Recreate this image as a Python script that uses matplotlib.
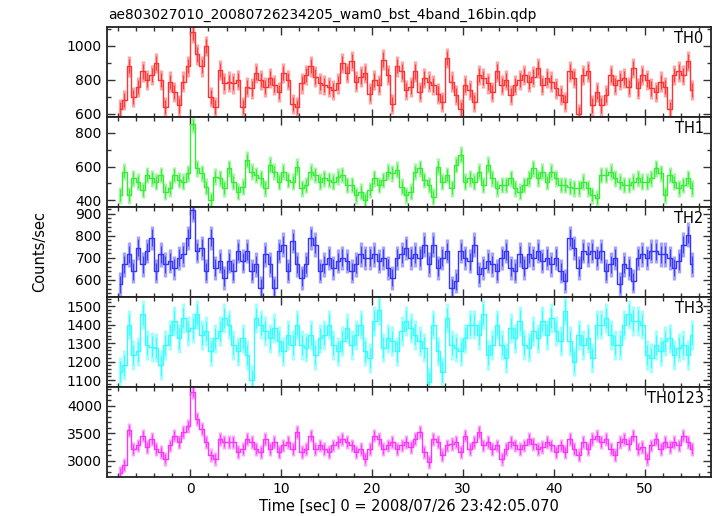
import numpy as np
import matplotlib
matplotlib.use('Agg')
import matplotlib.pyplot as plt
from matplotlib.ticker import MultipleLocator

plt.rcParams['font.family'] = ['DejaVu Sans']

# Text
TITLE = 'ae803027010_20080726234205_wam0_bst_4band_16bin.qdp'
XLABEL = 'Time [sec] 0 = 2008/07/26 23:42:05.070'
YLABEL = 'Counts/sec'

# Time binning (centre of first bin, bin width in sec)
T_START = -7.75
T_BIN = 0.5

BANDS = ['TH0', 'TH1', 'TH2', 'TH3', 'TH0123']
COLORS = ['#ff3333', '#33ee33', '#3535ff', '#33ffff', '#ff33ff']
ERRS = [60, 50, 55, 80, 125]  # typical error bar half-size per band

th0 = [630, 680, 880, 700, 760, 850, 800, 830, 900, 800, 640, 790, 730, 650, 790, 880,
       1080, 950, 880, 1000, 700, 640, 860, 780, 790, 780, 800, 640, 760, 750, 840, 800,
       760, 810, 770, 730, 840, 800, 660, 640, 780, 830, 880, 820, 780, 770, 760, 740,
       780, 900, 840, 910, 790, 820, 840, 720, 800, 770, 920, 830, 660, 880, 850, 740,
       760, 850, 730, 810, 790, 770, 720, 670, 930, 790, 710, 630, 770, 740, 670, 830,
       810, 780, 730, 850, 770, 800, 710, 770, 800, 830, 790, 820, 870, 770, 810, 790,
       750, 710, 670, 850, 810, 600, 830, 850, 650, 730, 650, 710, 830, 770, 800, 810,
       760, 870, 750, 830, 800, 750, 730, 790, 760, 630, 830, 850, 830, 910, 740]

th1 = [430, 570, 430, 530, 510, 460, 550, 530, 510, 550, 450, 470, 550, 520, 510, 560,
       850, 590, 560, 480, 400, 540, 530, 470, 590, 510, 450, 480, 640, 570, 550, 530,
       470, 610, 570, 510, 570, 520, 510, 600, 470, 490, 570, 550, 510, 530, 520, 510,
       540, 550, 490, 490, 430, 450, 400, 460, 530, 490, 520, 570, 560, 580, 480, 430,
       450, 570, 590, 520, 490, 420, 600, 510, 550, 470, 610, 670, 510, 530, 510, 570,
       490, 610, 530, 470, 490, 490, 530, 470, 450, 490, 530, 590, 530, 570, 510, 570,
       530, 490, 490, 480, 470, 470, 510, 470, 430, 410, 550, 550, 570, 530, 510, 490,
       490, 510, 530, 510, 510, 530, 590, 560, 430, 550, 510, 470, 490, 530, 470]

th2 = [580, 670, 715, 640, 745, 670, 730, 790, 640, 715, 670, 685, 655, 700, 715, 790,
       915, 730, 745, 640, 790, 655, 685, 610, 685, 640, 730, 685, 730, 640, 670, 565,
       715, 670, 565, 730, 760, 640, 775, 670, 610, 670, 790, 760, 640, 670, 700, 655,
       685, 700, 685, 640, 670, 715, 700, 700, 715, 685, 700, 655, 610, 700, 715, 745,
       700, 715, 700, 760, 670, 760, 655, 700, 730, 565, 595, 730, 700, 685, 760, 625,
       655, 685, 670, 640, 700, 730, 655, 640, 715, 655, 715, 700, 730, 685, 700, 670,
       700, 640, 595, 790, 745, 655, 730, 715, 730, 700, 730, 640, 670, 700, 580, 670,
       655, 595, 700, 715, 700, 730, 730, 715, 715, 700, 655, 685, 760, 805, 670]

th3 = [1145, 1180, 1400, 1235, 1255, 1455, 1290, 1280, 1275, 1180, 1290, 1345, 1420, 1325, 1435, 1365,
       1380, 1455, 1345, 1365, 1255, 1325, 1365, 1435, 1400, 1290, 1255, 1325, 1235, 1100, 1435, 1400,
       1365, 1325, 1380, 1310, 1255, 1345, 1290, 1400, 1290, 1275, 1345, 1235, 1325, 1345, 1400, 1290,
       1255, 1310, 1380, 1290, 1345, 1400, 1255, 1220, 1420, 1480, 1275, 1325, 1310, 1255, 1365, 1420,
       1380, 1345, 1310, 1275, 1090, 1400, 1255, 1145, 1435, 1290, 1275, 1255, 1325, 1400, 1400, 1345,
       1455, 1235, 1290, 1400, 1290, 1220, 1380, 1325, 1420, 1290, 1275, 1365, 1325, 1420, 1345, 1435,
       1365, 1310, 1475, 1310, 1200, 1345, 1290, 1325, 1220, 1400, 1400, 1435, 1345, 1290, 1290, 1400,
       1455, 1420, 1420, 1400, 1235, 1220, 1290, 1255, 1310, 1325, 1235, 1275, 1290, 1235, 1345]

th0123 = [2780, 2930, 3560, 3220, 3280, 3460, 3250, 3400, 3220, 3160, 3040, 3280, 3460, 3340, 3520, 3640,
          4250, 3760, 3580, 3340, 3100, 3040, 3400, 3340, 3340, 3340, 3160, 3220, 3400, 3340, 3220, 3160,
          3400, 3220, 3340, 3160, 3280, 3340, 3220, 3520, 3160, 3220, 3460, 3220, 3280, 3220, 3160, 3280,
          3340, 3400, 3340, 3280, 3160, 3220, 3040, 3220, 3460, 3400, 3220, 3280, 3340, 3220, 3280, 3340,
          3250, 3400, 3520, 3160, 2980, 3400, 3340, 3100, 3280, 3310, 3340, 3160, 3460, 3220, 3340, 3520,
          3280, 3340, 3220, 3280, 3040, 3220, 3340, 3280, 3220, 3280, 3400, 3310, 3220, 3250, 3340, 3280,
          3160, 3280, 3160, 3400, 3220, 3100, 3340, 3220, 3400, 3460, 3340, 3400, 3220, 3100, 3340, 3400,
          3310, 3460, 3220, 3250, 3040, 3280, 3400, 3220, 3340, 3250, 3340, 3280, 3460, 3340, 3220]

SERIES = [th0, th1, th2, th3, th0123]

# axis setup per band
YLIMS = [(582, 1112), (360, 895), (524, 930), (1064, 1550), (2712, 4347)]
YMAJOR = [200, 200, 100, 100, 500]
YMINOR = [100, 100, 20, 20, 100]
XLIM = (-9.2, 57.3)

fig, axes = plt.subplots(5, 1, figsize=(7.17, 5.16), dpi=100, sharex=True)
fig.subplots_adjust(left=0.1488, right=0.9916, bottom=0.0762, top=0.9477, hspace=0)

for i, ax in enumerate(axes):
    vals = np.array(SERIES[i], dtype=float)
    t = T_START + T_BIN * np.arange(len(vals))
    c = COLORS[i]
    # pale wide error bars, then a thin darker core, then the binned curve
    ax.errorbar(t, vals, yerr=ERRS[i], fmt='none', ecolor=c, elinewidth=2.4, alpha=0.45)
    ax.errorbar(t, vals, yerr=ERRS[i] * 0.7, fmt='none', ecolor=c, elinewidth=0.8, alpha=0.9)
    ax.step(t, vals, where='mid', color=c, lw=1.0)

    ax.set_xlim(*XLIM)
    ax.set_ylim(*YLIMS[i])
    ax.yaxis.set_major_locator(MultipleLocator(YMAJOR[i]))
    ax.yaxis.set_minor_locator(MultipleLocator(YMINOR[i]))
    ax.xaxis.set_major_locator(MultipleLocator(10))
    ax.xaxis.set_minor_locator(MultipleLocator(2))
    ax.tick_params(which='both', direction='in', top=True, right=True,
                   labelsize=10, width=1.0, color='#333333')
    ax.tick_params(which='major', length=6)
    ax.tick_params(which='minor', length=3)
    for sp in ax.spines.values():
        sp.set_linewidth(1.3)
        sp.set_color('#222222')
    ax.text(0.988, 0.955, BANDS[i], transform=ax.transAxes, ha='right', va='top', fontsize=10.5)

fig.text(108 / 717, 1 - 15 / 516, TITLE, ha='left', va='center', fontsize=9.9)
fig.text(40 / 717, 1 - 252 / 516, YLABEL, rotation=90, ha='center', va='center', fontsize=10.5)
fig.text(409 / 717, 1 - 506 / 516, XLABEL, ha='center', va='center', fontsize=10.5)

fig.savefig('out.png', dpi=100)
